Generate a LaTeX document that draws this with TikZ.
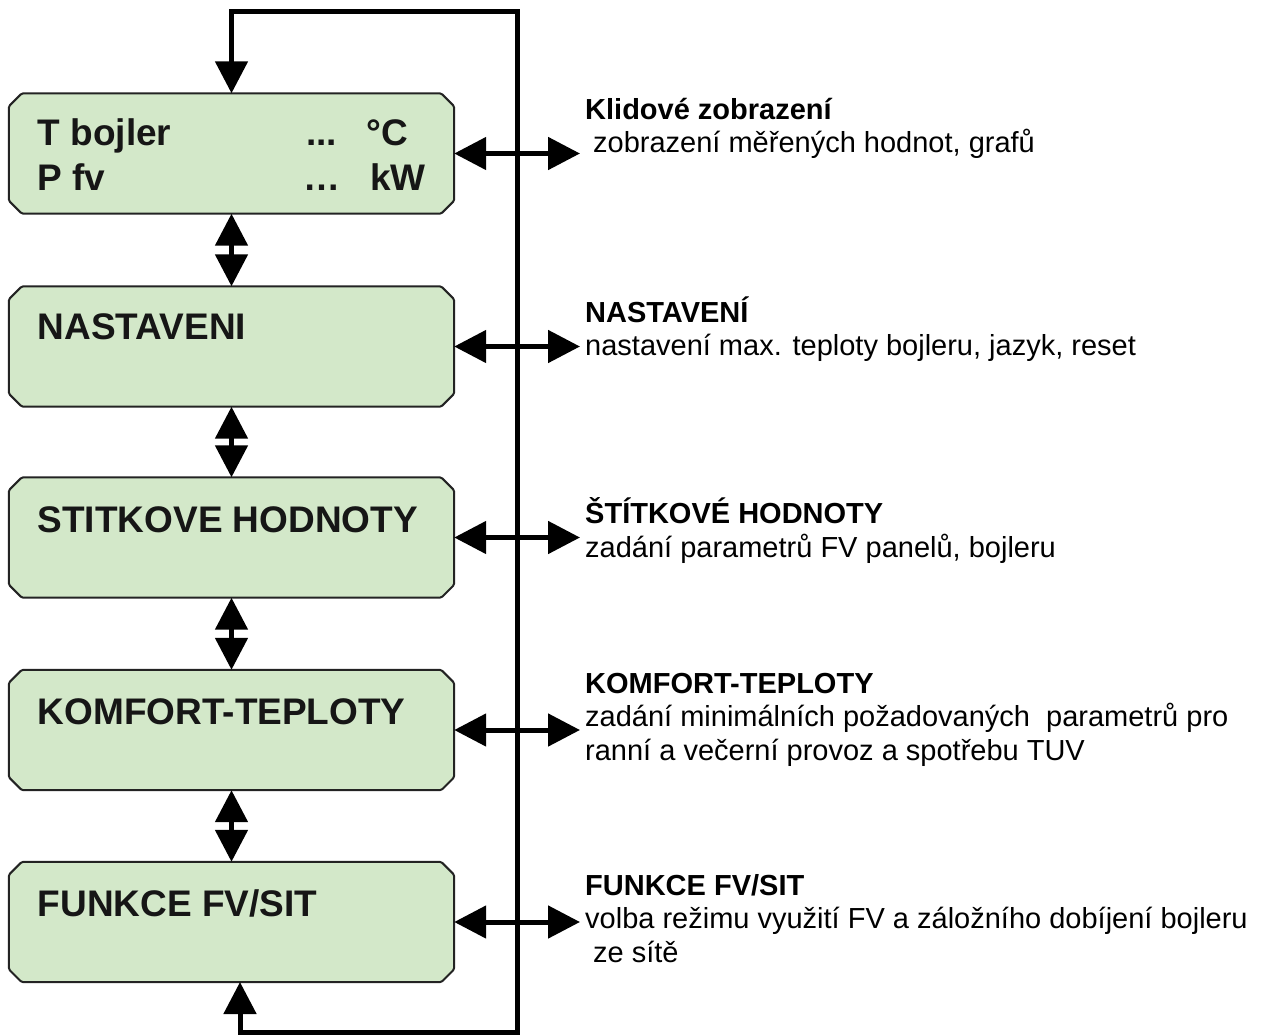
\documentclass[tikz,border=0pt]{standalone}
\usepackage{fontspec}
\setmainfont{Liberation Sans}
\usetikzlibrary{arrows.meta}
\definecolor{boxfill}{RGB}{211,232,201}
\definecolor{boxline}{RGB}{35,35,35}
\definecolor{ink}{RGB}{22,22,22}
\newcommand\panelshape[1]{%
  \filldraw[panelline]
    ([xshift=13pt]#1.north west) -- ([xshift=-13pt]#1.north east)
    -- ([yshift=-13pt]#1.north east) -- ([yshift=13pt]#1.south east)
    -- ([xshift=-13pt]#1.south east) -- ([xshift=13pt]#1.south west)
    -- ([yshift=13pt]#1.south west) -- ([yshift=-13pt]#1.north west) -- cycle;}
\begin{document}
\begin{tikzpicture}[x=1pt,y=-1pt,
  bigtri/.tip={Triangle[length=32pt,width=32pt]},
  panel/.style={rectangle, draw=none, fill=none,
    minimum width=445pt, minimum height=120pt, inner sep=0pt},
  panelline/.style={draw=boxline, line width=2pt, fill=boxfill,
    rounded corners=1.5pt, line join=round},
  btxt/.style={anchor=base west, inner sep=0pt, text=ink,
    font=\fontsize{37}{40}\selectfont\bfseries},
  rhead/.style={anchor=base west, inner sep=0pt,
    font=\fontsize{29}{33.5}\selectfont\bfseries},
  rtxt/.style={anchor=base west, inner sep=0pt,
    font=\fontsize{29}{33.5}\selectfont},
  conn/.style={line width=5pt, draw=black, line join=miter, {bigtri}-{bigtri}}
]
\useasboundingbox (0,0) rectangle (1269,1034);

% panels
\node[panel] (b1) at (231.5,153.5) {};
\node[panel] (b2) at (231.5,346.5) {};
\node[panel] (b3) at (231.5,537.5) {};
\node[panel] (b4) at (231.5,730) {};
\node[panel] (b5) at (231.5,922) {};
\panelshape{b1}
\panelshape{b2}
\panelshape{b3}
\panelshape{b4}
\panelshape{b5}

% panel texts
\node[btxt] (t1a) at (37.5,145) {T bojler};
\node[btxt] (t1b) at (306,145) {...};
\node[btxt] (t1c) at (366,145) {°C};
\node[btxt] (t1d) at (37.5,190) {P fv};
\node[btxt] (t1e) at (303,190) {…};
\node[btxt] (t1f) at (370,190) {kW};
\node[btxt] (t2) at (37.5,339) {NASTAVENI};
\node[btxt] (t3) at (37.5,532) {STITKOVE HODNOTY};
\node[btxt] (t4) at (37.5,724) {KOMFORT-TEPLOTY};
\node[btxt] (t5) at (37.5,916) {FUNKCE FV/SIT};

% vertical double arrows
\draw[conn] (b1.south) -- (b2.north);
\draw[conn] (b2.south) -- (b3.north);
\draw[conn] (b3.south) -- (b4.north);
\draw[conn] (b4.south) -- (b5.north);

% loop
\coordinate (tl) at (231.5,11);
\coordinate (tr) at (517,11);
\coordinate (br) at (517,1032);
\coordinate (bl) at (240,1032);
\coordinate (b5in) at (240,982);
\draw[conn] (b1.north) -- (tl) -- (tr) -- (br) -- (bl) -- (b5in);

% horizontal arrows
\coordinate (e1) at (580,153.5);
\coordinate (e2) at (580,346.5);
\coordinate (e3) at (580,537.5);
\coordinate (e4) at (580,730);
\coordinate (e5) at (580,922);
\draw[conn] (b1.east) -- (e1);
\draw[conn] (b2.east) -- (e2);
\draw[conn] (b3.east) -- (e3);
\draw[conn] (b4.east) -- (e4);
\draw[conn] (b5.east) -- (e5);

% right descriptions
\node[rhead] (r1a) at (585,119) {Klidové zobrazení};
\node[rtxt]  (r1b) at (593,152.5) {zobrazení měřených hodnot, grafů};
\node[rhead] (r2a) at (585,322) {NASTAVENÍ};
\node[rtxt]  (r2b) at (585,355.5) {nastavení max. teploty bojleru, jazyk, reset};
\node[rhead] (r3a) at (585,523) {ŠTÍTKOVÉ HODNOTY};
\node[rtxt]  (r3b) at (585,557) {zadání parametrů FV panelů, bojleru};
\node[rhead] (r4a) at (585,693) {KOMFORT-TEPLOTY};
\node[rtxt]  (r4b) at (585,726.5) {zadání minimálních požadovaných\ \ parametrů pro};
\node[rtxt]  (r4c) at (585,760) {ranní a večerní provoz a spotřebu TUV};
\node[rhead] (r5a) at (585,895) {FUNKCE FV/SIT};
\node[rtxt]  (r5b) at (585,928.5) {volba režimu využití FV a záložního dobíjení bojleru};
\node[rtxt]  (r5c) at (593,962) {ze sítě};
\end{tikzpicture}
\end{document}
